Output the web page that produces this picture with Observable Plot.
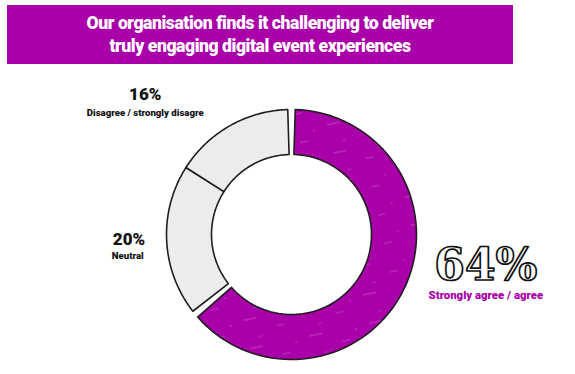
<!DOCTYPE html>
<html>
<head>
<meta charset="utf-8">
<script src="https://cdn.jsdelivr.net/npm/d3@7"></script>
<script src="https://cdn.jsdelivr.net/npm/@observablehq/plot@0.6"></script>
<style>
  html, body { margin: 0; padding: 0; background: #fff; }
  body { width: 575px; height: 374px; overflow: hidden; position: relative; font-family: Roboto, "Noto Sans", sans-serif; }
  #banner {
    position: absolute; left: 7px; top: 5px; width: 506px; height: 59px;
    background: #AA00AA; color: #fff; font-weight: 900; font-size: 17.6px;
    line-height: 23px; text-align: center; display: flex; flex-direction: column;
    justify-content: center; letter-spacing: -0.45px;
  }
  #chart { position: absolute; left: 0; top: 70px; }
</style>
</head>
<body>
<div id="banner"><div>Our organisation finds it challenging to deliver</div><div>truly engaging digital event experiences</div></div>
<div id="chart"></div>
<script>
// ---- data ----
const categories = ["Strongly agree / agree", "Neutral", "Disagree / strongly disagre"];
const values = [64, 20, 16];
const valueLabels = ["64%", "20%", "16%"];
const colors = ["#AA00AA", "#ECECEC", "#ECECEC"];

// ---- layout ----
const W = 575, H = 304;
const cx = 291, cy = 164;   // donut centre in svg px
const R = 125;              // outer radius px (1 data unit)
const inner = 0.64;         // inner radius ratio

const total = d3.sum(values);
let acc = 0;
const segs = values.map((v, i) => {
  const a0 = acc / total * 2 * Math.PI;
  acc += v;
  const a1 = acc / total * 2 * Math.PI;
  return {cat: categories[i], value: v, a0, a1, color: colors[i], i};
});
// pad between purple and grey segments
const pad = 0.03;
segs.forEach((s, i) => {
  const prev = segs[(i + segs.length - 1) % segs.length];
  const next = segs[(i + 1) % segs.length];
  if (prev.color !== s.color) s.a0 += pad;
  if (next.color !== s.color) s.a1 -= pad;
});

// polygon points for each segment (angle clockwise from top, y up)
const pts = [];
segs.forEach(s => {
  const n = 80;
  const ring = [];
  for (let k = 0; k <= n; k++) {
    const a = s.a0 + (s.a1 - s.a0) * k / n;
    ring.push([Math.sin(a), Math.cos(a)]);
  }
  for (let k = n; k >= 0; k--) {
    const a = s.a0 + (s.a1 - s.a0) * k / n;
    ring.push([inner * Math.sin(a), inner * Math.cos(a)]);
  }
  ring.push(ring[0]);
  ring.forEach(([x, y]) => pts.push({x, y, cat: s.cat, color: s.color}));
});

const plot = Plot.plot({
  width: W, height: H,
  margin: 0,
  x: {domain: [-cx / R, (W - cx) / R], axis: null},
  y: {domain: [-(H - cy) / R, cy / R], axis: null},
  style: {background: "transparent", overflow: "visible"},
  marks: [
    Plot.line(pts, {
      x: "x", y: "y", z: "cat",
      fill: d => d.color === colors[0] ? "url(#hatch)" : d.color,
      stroke: "#1e1e1e", strokeWidth: 1.6, strokeLinejoin: "round",
      curve: "linear"
    }),
    // 16% label
    Plot.text([0], {x: -1.17, y: 1.12, text: () => valueLabels[2], fontSize: 17, fontWeight: 900, fill: "#111", fontFamily: "Roboto"}),
    Plot.text([0], {x: -1.17, y: 0.97, text: () => categories[2], fontSize: 9.6, fontWeight: 900, fill: "#111", fontFamily: "Roboto"}),
    // 20% label
    Plot.text([0], {x: -1.30, y: -0.04, text: () => valueLabels[1], fontSize: 17, fontWeight: 900, fill: "#111", fontFamily: "Roboto"}),
    Plot.text([0], {x: -1.31, y: -0.17, text: () => categories[1], fontSize: 9.6, fontWeight: 900, fill: "#111", fontFamily: "Roboto"}),
    // 64% label
    Plot.text([0], {x: 1.555, y: -0.25, text: () => valueLabels[0], fontSize: 44, fontWeight: 700, fill: "#fff", stroke: "#111", strokeWidth: 1.7, fontFamily: "DejaVu Serif", paintOrder: "fill"}),
    Plot.text([0], {x: 1.555, y: -0.49, text: () => categories[0], fontSize: 11.4, fontWeight: 900, fill: colors[0], fontFamily: "Roboto"})
  ]
});

// hatch pattern for the purple slice (sketchy white streaks)
const svgNS = "http://www.w3.org/2000/svg";
const defs = document.createElementNS(svgNS, "defs");
defs.innerHTML = `
  <pattern id="hatch" patternUnits="userSpaceOnUse" width="61" height="29" patternTransform="rotate(-12)">
    <rect width="61" height="29" fill="#AA00AA"></rect>
    <line x1="3" y1="5" x2="16" y2="5" stroke="#fff" stroke-opacity="0.4" stroke-width="0.7"></line>
    <line x1="34" y1="17" x2="42" y2="17" stroke="#fff" stroke-opacity="0.35" stroke-width="0.7"></line>
    <line x1="14" y1="24" x2="19" y2="24" stroke="#fff" stroke-opacity="0.3" stroke-width="0.6"></line>
    <circle cx="50" cy="8" r="0.7" fill="#fff" fill-opacity="0.4"></circle>
  </pattern>`;
plot.insertBefore(defs, plot.firstChild);

document.getElementById("chart").appendChild(plot);
</script>
</body>
</html>
